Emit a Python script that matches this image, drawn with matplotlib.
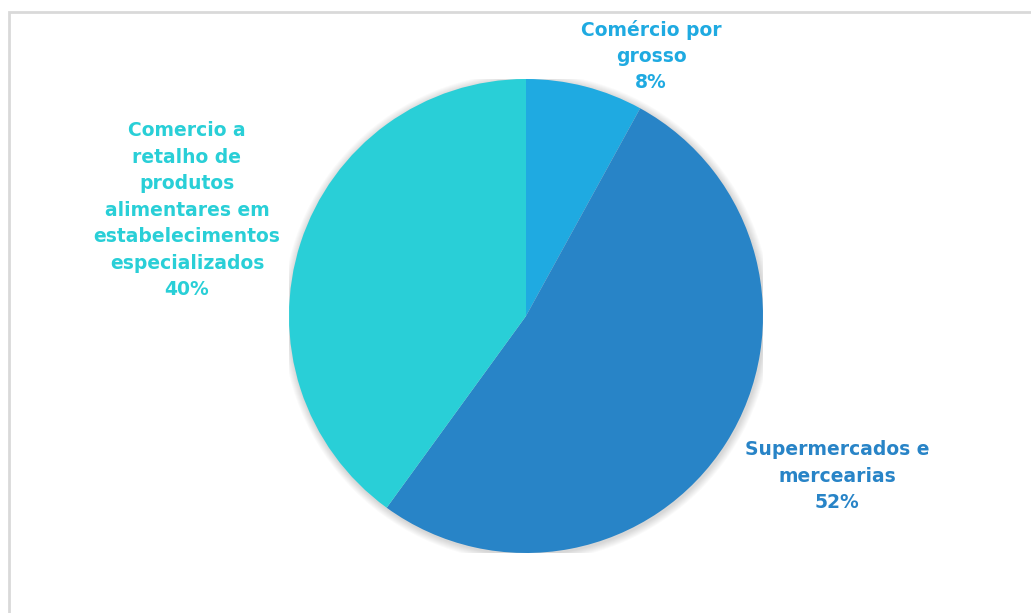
import matplotlib.pyplot as plt
from matplotlib.patches import Rectangle, Circle

# Shares of the food retail sector
categories = ["Comércio por\ngrosso",
              "Supermercados e\nmercearias",
              "Comercio a\nretalho de\nprodutos\nalimentares em\nestabelecimentos\nespecializados"]
shares = [8, 52, 40]
colors = ["#1FAAE1", "#2884C7", "#29CFD7"]

W, H = 1031, 613
fig = plt.figure(figsize=(W / 100, H / 100), dpi=100)
fig.patch.set_facecolor("white")

# chart frame (runs off the right/bottom edge)
fig.add_artist(Rectangle((9 / W, -0.2), 2.0, 1 - 12 / H + 0.2, transform=fig.transFigure,
                         fill=False, edgecolor="#D9D9D9", lw=2))

cx, cy, r = 526, 316, 237
ax = fig.add_axes([(cx - r) / W, (H - cy - r) / H, 2 * r / W, 2 * r / H])

# soft outer shadow
for i in range(8):
    ax.add_patch(Circle((0.004, -0.006), 1 + 0.004 * (i + 1), facecolor="black",
                        alpha=0.018, edgecolor="none", zorder=0))

ax.pie(shares, colors=colors, startangle=90, counterclock=False, radius=1,
       wedgeprops=dict(linewidth=0), frame=True)
ax.set_xlim(-1, 1)
ax.set_ylim(-1, 1)
ax.axis("off")

label_pos = [(651, 56), (837, 476), (187, 210)]
for cat, val, col, (px, py) in zip(categories, shares, colors, label_pos):
    fig.text(px / W, 1 - py / H, f"{cat}\n{val}%", color=col, ha="center", va="center",
             fontsize=13.5, fontweight="bold", family="DejaVu Sans", linespacing=1.5)

fig.savefig("out.png", dpi=100)
